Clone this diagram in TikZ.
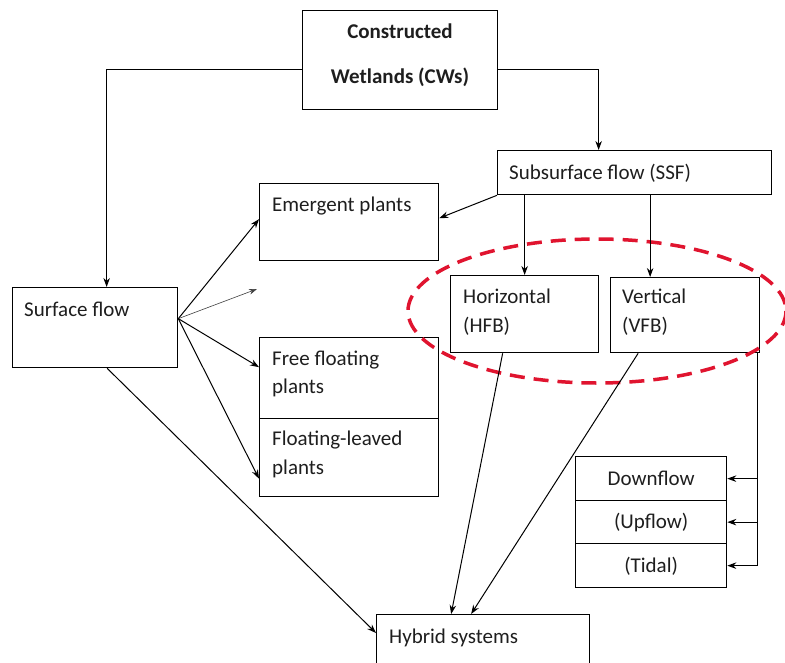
\documentclass[tikz,border=0pt]{standalone}
\usepackage{fontspec}
\setmainfont{Carlito}
\usetikzlibrary{arrows.meta}
\definecolor{txt}{HTML}{1E1E1E}
\definecolor{redd}{HTML}{E0142F}
\tikzset{
  box/.style={draw=black, line width=1.3pt, inner sep=0pt, anchor=north west},
  lbl/.style={inner sep=0pt, anchor=base west, text=txt, font=\fontsize{21}{25}\selectfont},
  clbl/.style={lbl, anchor=base},
  arr/.style={-{Stealth[length=9pt,width=6.5pt]}, line width=1pt},
  thinarr/.style={-{Stealth[length=8pt,width=5.5pt]}, line width=0.6pt, draw=black!75}
}
\begin{document}
\begin{tikzpicture}[x=1pt,y=-1pt]
\useasboundingbox (0,0) rectangle (785,662);
\clip (0,0) rectangle (785,662);
\fill[white] (0,0) rectangle (785,662);

% boxes
\node[box, minimum width=195pt, minimum height=99pt] (cw) at (302,10) {};
\node[box, minimum width=274pt, minimum height=44pt] (ssf) at (497,150) {};
\node[box, minimum width=179pt, minimum height=77pt] (em) at (259,183) {};
\node[box, minimum width=165pt, minimum height=80pt] (sf) at (12,287) {};
\node[box, minimum width=148pt, minimum height=77pt] (hfb) at (450,275) {};
\node[box, minimum width=149pt, minimum height=75pt] (vfb) at (610,277) {};
\node[box, minimum width=179pt, minimum height=81pt] (ff) at (259,337) {};
\node[box, minimum width=179pt, minimum height=78pt] (fl) at (259,418) {};
\node[box, minimum width=151pt, minimum height=44pt] (dn) at (575,456) {};
\node[box, minimum width=151pt, minimum height=43pt] (up) at (575,500) {};
\node[box, minimum width=151pt, minimum height=44pt] (td) at (575,543) {};
\node[box, minimum width=213pt, minimum height=70pt] (hy) at (376,614) {};

% texts
\node[clbl, font=\fontsize{21}{25}\selectfont\bfseries] (t1) at (400,38) {Constructed};
\node[clbl, font=\fontsize{21}{25}\selectfont\bfseries] (t2) at (400,83) {Wetlands (CWs)};
\node[lbl] (t3) at (509,179) {Subsurface flow (SSF)};
\node[lbl] (t4) at (272,211) {Emergent plants};
\node[lbl] (t5) at (463,303) {Horizontal};
\node[lbl] (t6) at (463,332) {(HFB)};
\node[lbl] (t7) at (622,303) {Vertical};
\node[lbl] (t8) at (622,332) {(VFB)};
\node[lbl] (t9) at (24,316) {Surface flow};
\node[lbl] (t10) at (272,365) {Free floating};
\node[lbl] (t11) at (272,393) {plants};
\node[lbl] (t12) at (272,445) {Floating-leaved};
\node[lbl] (t13) at (272,474) {plants};
\node[lbl] (t14) at (389,643) {Hybrid systems};
\node[clbl] (t15) at (dn.center |- 0,485) {Downflow};
\node[clbl] (t16) at (up.center |- 0,528) {(Upflow)};
\node[clbl] (t17) at (td.center |- 0,572) {(Tidal)};

% red dashed ellipse
\draw[redd, line width=3.5pt, dash pattern=on 15pt off 9pt] (597,311) ellipse [x radius=189, y radius=72];

% connectors
\draw[arr] ([yshift=-9pt]cw.west) -| ([xshift=11.5pt]sf.north);
\draw[arr] ([yshift=-9pt]cw.east) -| ([xshift=-36pt]ssf.north);
\draw[arr] (ssf.south west) -- ([yshift=4pt]em.east);
\draw[arr] (hfb.north |- ssf.south) -- (hfb.north);
\draw[arr] ([xshift=-35pt]vfb.north |- ssf.south) -- ([xshift=-35pt]vfb.north);

\coordinate (sfo) at ([yshift=9pt]sf.east);
\coordinate (free) at (257,289);
\draw[arr] (sfo) -- ([yshift=3pt]em.west);
\draw[thinarr] (sfo) -- (free);
\draw[arr] (sfo) -- ([yshift=11pt]ff.west);
\draw[arr] (sfo) -- ([yshift=-21pt]fl.west);
\draw[arr] ([xshift=12pt]sf.south) -- ([yshift=-19pt]hy.north west);

\draw[arr] ([xshift=-22pt]hfb.south) -- ([xshift=-32pt]hy.north);
\draw[arr] ([xshift=-47pt]vfb.south) -- ([xshift=-12pt]hy.north);

\coordinate (vl) at ([xshift=-3pt]vfb.south east);
\draw[line width=1pt] (vl) -- (vl |- td.east);
\draw[arr] (vl |- dn.east) -- (dn.east);
\draw[arr] (vl |- up.east) -- (up.east);
\draw[arr] (vl |- td.east) -- (td.east);
\end{tikzpicture}
\end{document}
